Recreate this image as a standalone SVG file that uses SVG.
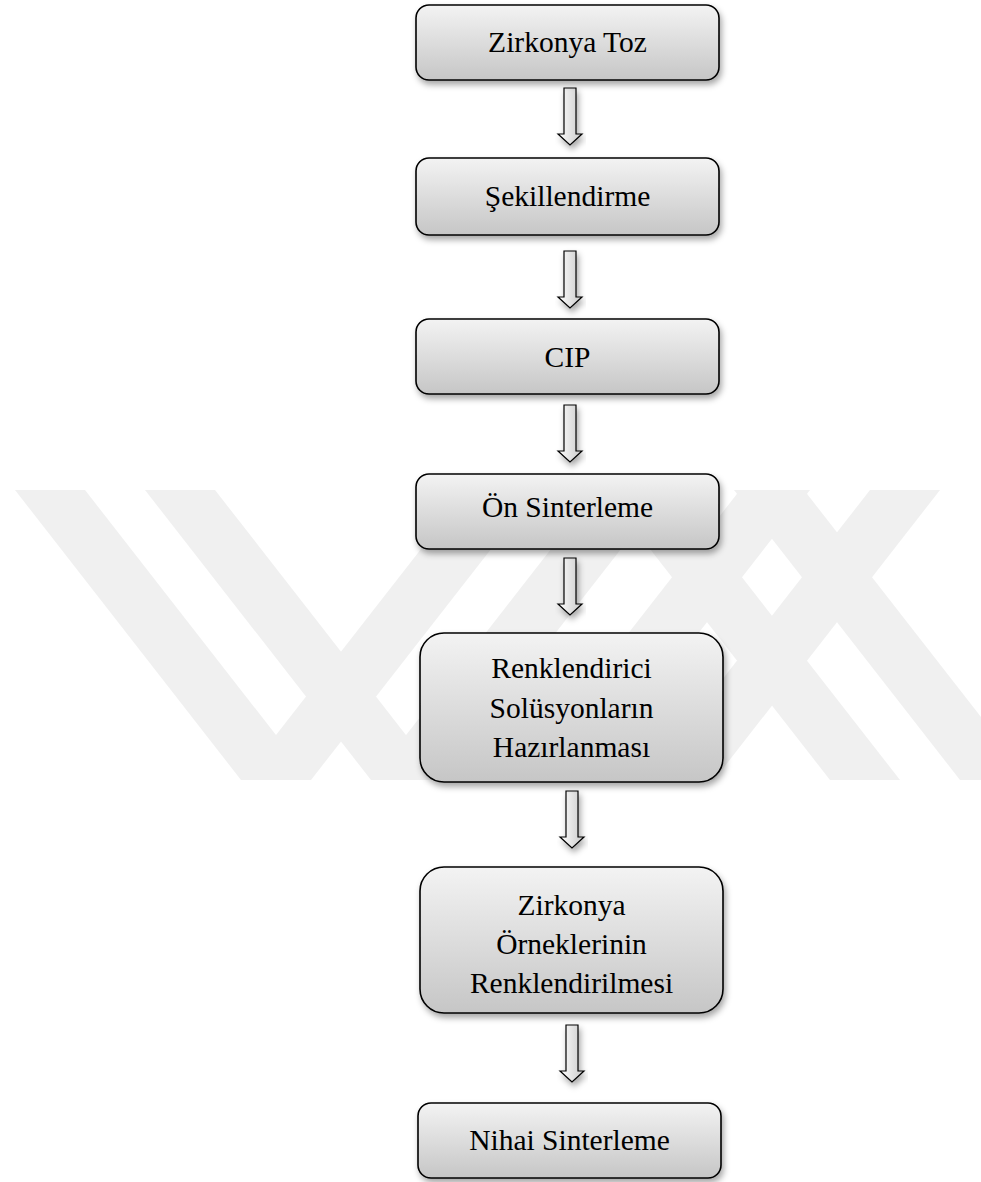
<svg xmlns="http://www.w3.org/2000/svg" width="981" height="1182" viewBox="0 0 981 1182">
<defs>
<linearGradient id="boxGrad" x1="0" y1="0" x2="0" y2="1">
<stop offset="0" stop-color="#f3f3f3"/>
<stop offset="1" stop-color="#c6c6c6"/>
</linearGradient>
<linearGradient id="arrGrad" x1="0" y1="0" x2="1" y2="0">
<stop offset="0" stop-color="#ffffff"/>
<stop offset="1" stop-color="#c8c8c8"/>
</linearGradient>
<filter id="shadow" x="-10%" y="-10%" width="125%" height="130%">
<feDropShadow dx="2" dy="4" stdDeviation="3" flood-color="#000" flood-opacity="0.35"/>
</filter>
<path id="arrow" d="M -6 0 H 6 V 46 H 12 L 0 57 L -12 46 H -6 Z"/>
<clipPath id="wmClip"><rect x="0" y="490" width="981" height="295"/></clipPath>
</defs>
<style>
.box{fill:url(#boxGrad);stroke:#000;stroke-width:1.6;filter:url(#shadow)}
.arr{fill:url(#arrGrad);stroke:#000;stroke-width:1.2;filter:url(#shadow)}
.lbl{font-family:"Liberation Serif","Times New Roman",serif;font-size:29.5px;fill:#000;text-anchor:middle}
.wm{fill:#f0f0f0}
</style>
<rect width="981" height="1182" fill="#fff"/>
<g id="watermark" clip-path="url(#wmClip)">
<polygon class="wm" points="15,490 85,490 311,780 241,780"/>
<polygon class="wm" points="145,490 215,490 441,780 371,780"/>
<polygon class="wm" points="467,490 537,490 311,780 241,780"/>
<polygon class="wm" points="597,490 667,490 441,780 371,780"/>
<polygon class="wm" points="870,490 940,490 714,780 644,780"/>
<polygon class="wm" points="740,490 810,490 584,780 514,780"/>
<polygon class="wm" points="604,490 674,490 900,780 830,780"/>
<polygon class="wm" points="734,490 804,490 1030,780 960,780"/>
</g>
<g id="connectors">
<use href="#arrow" class="arr" x="570" y="88"/>
<use href="#arrow" class="arr" x="570" y="251"/>
<use href="#arrow" class="arr" x="570" y="405"/>
<use href="#arrow" class="arr" x="570" y="558"/>
<use href="#arrow" class="arr" x="572" y="791"/>
<use href="#arrow" class="arr" x="572" y="1025"/>
</g>
<g id="n1"><rect class="box" x="416" y="5" width="303" height="75" rx="13"/><text class="lbl" x="567.5" y="52">Zirkonya Toz</text></g>
<g id="n2"><rect class="box" x="416" y="158" width="303" height="77" rx="13"/><text class="lbl" x="567.5" y="206">Şekillendirme</text></g>
<g id="n3"><rect class="box" x="416" y="319" width="303" height="75" rx="13"/><text class="lbl" x="567.5" y="367">CIP</text></g>
<g id="n4"><rect class="box" x="416" y="474" width="303" height="75" rx="13"/><text class="lbl" x="567.5" y="517">Ön Sinterleme</text></g>
<g id="n5"><rect class="box" x="420" y="633" width="303" height="149" rx="24"/><text class="lbl" x="571.5" y="678">Renklendirici</text><text class="lbl" x="571.5" y="718">Solüsyonların</text><text class="lbl" x="571.5" y="757">Hazırlanması</text></g>
<g id="n6"><rect class="box" x="420" y="867" width="303" height="146" rx="24"/><text class="lbl" x="571.5" y="915">Zirkonya</text><text class="lbl" x="571.5" y="954">Örneklerinin</text><text class="lbl" x="571.5" y="993">Renklendirilmesi</text></g>
<g id="n7"><rect class="box" x="418" y="1103" width="303" height="75" rx="13"/><text class="lbl" x="569.5" y="1150">Nihai Sinterleme</text></g>
</svg>
